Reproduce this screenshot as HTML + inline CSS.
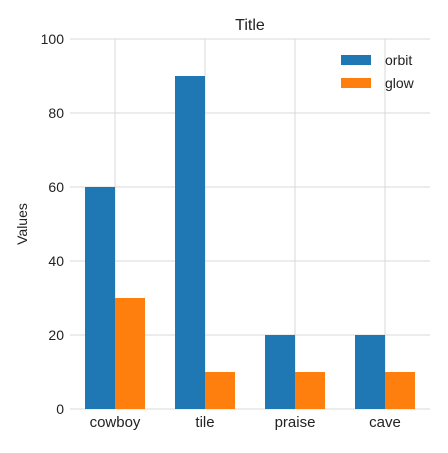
<!DOCTYPE html>
<html><head><style>body{margin:0;background:#fff}svg{font-family:"Liberation Sans",sans-serif}</style></head>
<body>
<svg id="c" width="448" height="448"></svg>
<script>
const categories=["cowboy","tile","praise","cave"];
const orbit=[60,90,20,20];
const glow=[30,10,10,10];
const yTicks=[0,20,40,60,80,100];
const NS="http://www.w3.org/2000/svg";
const svg=document.getElementById('c');
const L=70,R=430,T=39,B=409;
const y=v=>B-(v/100)*(B-T);
const xc=i=>115+i*90;
function mk(t,a,p){const e=document.createElementNS(NS,t);for(const k in a)e.setAttribute(k,a[k]);(p||svg).appendChild(e);return e;}
yTicks.forEach(v=>{
 const g=mk('line',{x1:L,x2:R,y1:y(v),y2:y(v),stroke:'#d9d9d9','stroke-width':1});
 
 
 const t=mk('text',{x:L-6,y:y(v)+5,'text-anchor':'end','font-size':14,fill:'#222'});t.textContent=v;
 
 
});
categories.forEach((c,i)=>{
 const g=mk('line',{x1:xc(i),x2:xc(i),y1:T,y2:B,stroke:'#d9d9d9','stroke-width':1});
 
 
});
categories.forEach((c,i)=>{
 const b1=mk('rect',{x:xc(i)-30,y:y(orbit[i]),width:30,height:B-y(orbit[i]),fill:'#1f77b4'});
 
 
 const b2=mk('rect',{x:xc(i),y:y(glow[i]),width:30,height:B-y(glow[i]),fill:'#ff7f0e'});
 
 
 const t=mk('text',{x:xc(i),y:427,'text-anchor':'middle','font-size':15,fill:'#222'});t.textContent=c;
 
 
});
const ti=mk('text',{x:250,y:30,'text-anchor':'middle','font-size':16,fill:'#222'});ti.textContent='Title';


const yl=mk('text',{x:27,y:224,'text-anchor':'middle','font-size':14,fill:'#222',transform:'rotate(-90 27 224)'});yl.textContent='Values';


[['orbit','#1f77b4',59],['glow','#ff7f0e',82]].forEach(([n,c,yy])=>{
 const s=mk('rect',{x:341,y:yy-4,width:30,height:10,fill:c});
 
 
 const t=mk('text',{x:385,y:yy+6,'font-size':14,fill:'#222'});t.textContent=n;
 
 
});
</script>
</body></html>
